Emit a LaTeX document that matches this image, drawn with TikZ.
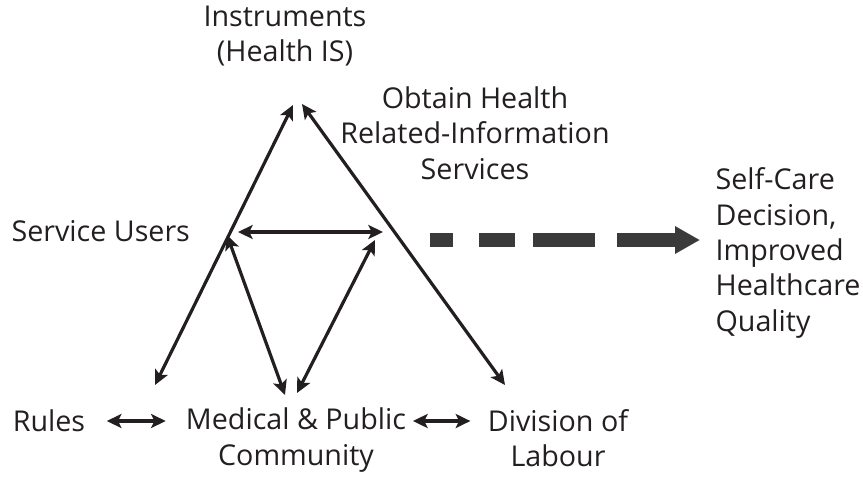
\documentclass[tikz,border=0pt]{standalone}
\usepackage{fontspec}
\setmainfont{Open Sans}
\usetikzlibrary{arrows.meta,positioning,calc}
\definecolor{inkdark}{HTML}{231F20}
\definecolor{inkgrey}{HTML}{3A3A3A}
\tikzset{
  lbl/.style   = {font=\fontsize{21.5}{26.5}\selectfont, inner sep=1pt, align=center, text=inkdark},
  link/.style  = {{Stealth[length=11pt,width=10.5pt,inset=2.5pt]}-{Stealth[length=11pt,width=10.5pt,inset=2.5pt]},
                  line width=2.4pt, draw=inkdark},
  flow/.style  = {-{Triangle[length=18.75pt,width=19.5pt]}, line width=10.5pt, draw=inkgrey,
                  dash pattern=on 17.25pt off 19.5pt on 27pt off 13.5pt on 46.5pt off 16.5pt on 80pt},
}

\begin{document}
\begin{tikzpicture}[x=0.75pt, y=-0.75pt]
  \useasboundingbox (0,0) rectangle (863,476);
  % labels
  \node[lbl] (instr) at (285,36) {Instruments\\(Health IS)};
  \node[lbl] (obtain) at (475,133) {Obtain Health\\Related-Information\\Services};
  \node[lbl, anchor=west] (users) at (10,231) {Service Users};
  \node[lbl, anchor=west, align=left] (outcome) at (714,253) {Self-Care\\Decision,\\Improved\\Healthcare\\Quality};
  \node[lbl] (rules) at (49,421) {Rules};
  \node[lbl] (medical) at (296,440) {Medical \& Public\\Community};
  \node[lbl] (division) at (558,438) {Division of\\Labour};
  % free ends of the triangle
  \coordinate (apexL) at (293,105);
  \coordinate (apexR) at (302,104);
  \coordinate (ruleTip) at (155,385);
  \coordinate (divTip) at (505,385);
  \coordinate (userTip) at (227,235);
  \coordinate (hubL) at (238,232);
  \coordinate (hubR) at (383,232);
  \coordinate (medTipA) at (285,395);
  \coordinate (medTipB) at (297,393);
  \coordinate (hubTip) at (375,240);
  \coordinate (goalStart) at (430,240);
  \coordinate (goalTip) at (700,240);
  % connectors
  \draw[link] (ruleTip) -- (apexL);
  \draw[link] (divTip) -- (apexR);
  \draw[link] (hubL) -- (hubR);
  \draw[link] (userTip) -- (medTipA);
  \draw[link] (hubTip) -- (medTipB);
  \draw[link] ([xshift=15pt]rules.east) -- ([xshift=-14pt]rules.east -| medical.west);
  \draw[link] ([xshift=4pt]rules.east -| medical.east) -- ([xshift=-12pt]rules.east -| division.west);
  \draw[flow] (goalStart) -- (goalTip);
\end{tikzpicture}
\end{document}
